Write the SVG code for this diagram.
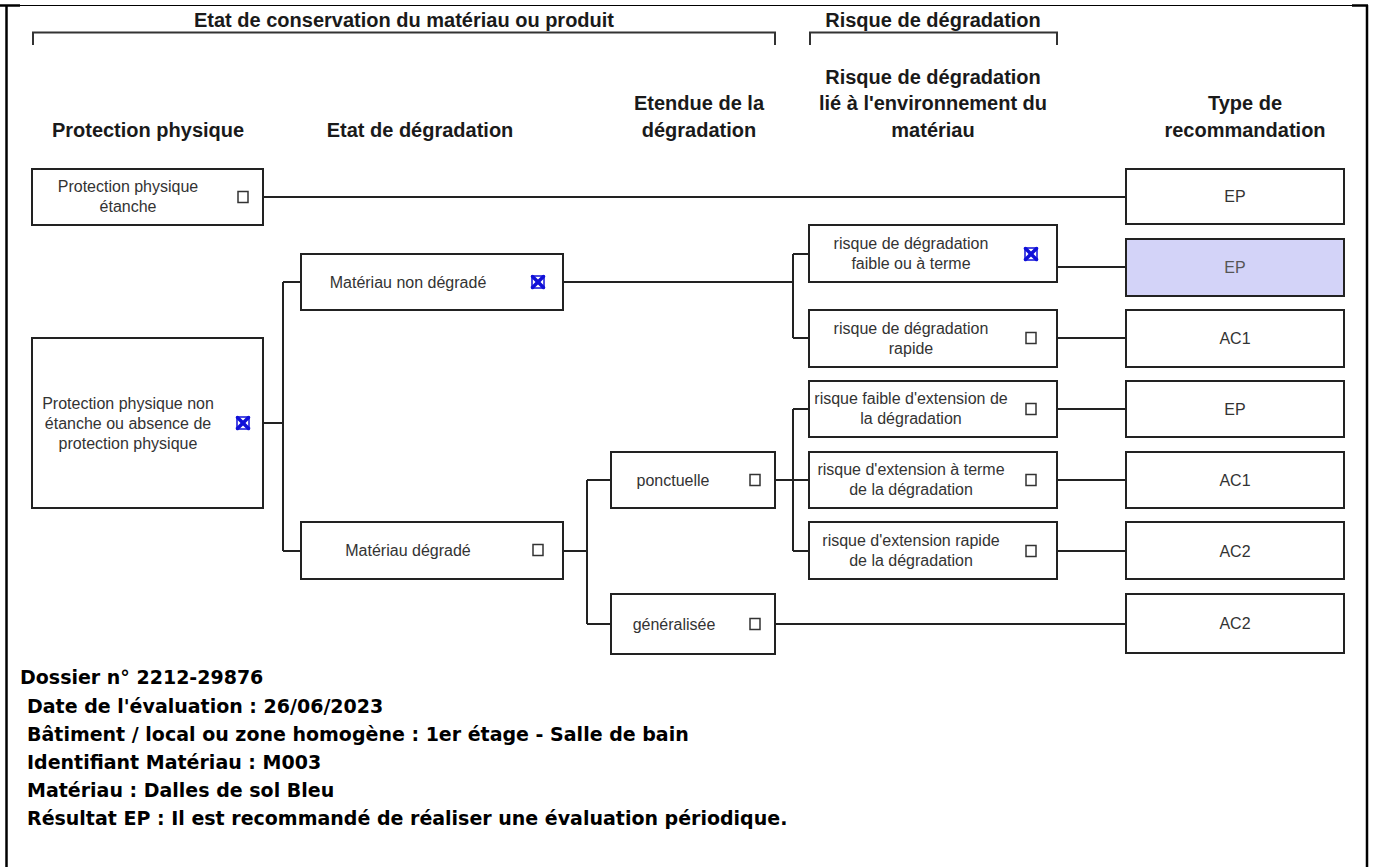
<svg xmlns="http://www.w3.org/2000/svg" width="1375" height="867" viewBox="0 0 1375 867">
<style>
.bg{fill:#fff}
.frame{stroke:#000;stroke-width:2.5;fill:none}
.frame1{stroke:#000;stroke-width:1.2;fill:none}
.br{stroke:#333;stroke-width:2;fill:none}
.h{font-family:"Liberation Sans",Arial,sans-serif;font-weight:bold;font-size:20px;fill:#1a1a1a;text-anchor:middle}
.box{fill:#fff;stroke:#222;stroke-width:2}
.hi{fill:#d3d3f8;stroke:#222;stroke-width:2}
.t{font-family:"Liberation Sans",Arial,sans-serif;font-size:16px;fill:#333;text-anchor:middle}
.tg{font-family:"Liberation Sans",Arial,sans-serif;font-size:16px;fill:#555;text-anchor:middle}
.cb{fill:#fff;stroke:#333;stroke-width:1.5}
.xb{fill:none;stroke:#1010d8;stroke-width:1.5}
.xx{stroke:#1010d8;stroke-width:3.5;stroke-linecap:round}
.c{stroke:#222;stroke-width:2;fill:none}
.b{font-family:"DejaVu Sans",Verdana,sans-serif;font-weight:bold;font-size:19px;fill:#000}
</style>
<defs>
<g id="xmark"><rect class="xb" x="-6" y="-6" width="12" height="12"/><line class="xx" x1="-5.5" y1="-5.5" x2="5.5" y2="5.5"/><line class="xx" x1="5.5" y1="-5.5" x2="-5.5" y2="5.5"/></g>
<rect id="cbox" class="cb" x="-5" y="-5.5" width="10" height="11"/>
</defs>
<rect class="bg" x="0" y="0" width="1375" height="867"/>
<g id="frame">
<line class="frame1" x1="6" y1="5.5" x2="1367" y2="5.5"/>
<line class="frame" x1="0" y1="5.5" x2="20" y2="5.5"/>
<line class="frame" x1="1352" y1="5.5" x2="1368" y2="5.5"/>
<line class="frame" x1="6.5" y1="5" x2="6.5" y2="867"/>
<line class="frame" x1="1367" y1="5" x2="1367" y2="867"/>
</g>
<g id="headers">
<text class="h" x="404" y="27">Etat de conservation du matériau ou produit</text>
<path class="br" d="M33 45V32.5H775V45"/>
<text class="h" x="933" y="27">Risque de dégradation</text>
<path class="br" d="M810 45V32.5H1057V45"/>
<text class="h" x="148" y="137">Protection physique</text>
<text class="h" x="420" y="137">Etat de dégradation</text>
<text class="h" x="699" y="110">Etendue de la</text>
<text class="h" x="699" y="137">dégradation</text>
<text class="h" x="933" y="84">Risque de dégradation</text>
<text class="h" x="933" y="110">lié à l'environnement du</text>
<text class="h" x="933" y="137">matériau</text>
<text class="h" x="1245" y="110">Type de</text>
<text class="h" x="1245" y="137">recommandation</text>
</g>
<g id="connectors">
<path class="c" d="M263 197H1126"/>
<path class="c" d="M263 423H283M283 282V551M283 282H301M283 551H301"/>
<path class="c" d="M563 282H793M793 254V338M793 254H809M793 338H809"/>
<path class="c" d="M1057 267H1126M1057 338H1126"/>
<path class="c" d="M563 551H587M587 480V624M587 480H611M587 624H611"/>
<path class="c" d="M775 480H793M793 409V551M793 409H809M793 480H809M793 551H809"/>
<path class="c" d="M1057 409H1126M1057 480H1126M1057 551H1126"/>
<path class="c" d="M775 624H1126"/>
</g>
<g id="n-pp-etanche">
<rect class="box" x="32" y="169" width="231" height="56"/>
<text class="t" x="128" y="192">Protection physique</text>
<text class="t" x="128" y="212">étanche</text>
<use href="#cbox" x="243" y="197"/>
</g>
<g id="n-pp-non-etanche">
<rect class="box" x="32" y="338" width="231" height="170"/>
<text class="t" x="128" y="409">Protection physique non</text>
<text class="t" x="128" y="429">étanche ou absence de</text>
<text class="t" x="128" y="449">protection physique</text>
<use href="#xmark" x="243" y="423"/>
</g>
<g id="n-non-degrade">
<rect class="box" x="301" y="254" width="262" height="56"/>
<text class="t" x="408" y="288">Matériau non dégradé</text>
<use href="#xmark" x="538" y="282"/>
</g>
<g id="n-degrade">
<rect class="box" x="301" y="522" width="262" height="57"/>
<text class="t" x="408" y="556">Matériau dégradé</text>
<use href="#cbox" x="538" y="550"/>
</g>
<g id="n-ponctuelle">
<rect class="box" x="611" y="452" width="164" height="56"/>
<text class="t" x="673" y="486">ponctuelle</text>
<use href="#cbox" x="755" y="480"/>
</g>
<g id="n-generalisee">
<rect class="box" x="611" y="594" width="164" height="60"/>
<text class="t" x="674" y="630">généralisée</text>
<use href="#cbox" x="755" y="624"/>
</g>
<g id="n-risque-faible">
<rect class="box" x="809" y="225" width="248" height="57"/>
<text class="t" x="911" y="249">risque de dégradation</text>
<text class="t" x="911" y="269">faible ou à terme</text>
<use href="#xmark" x="1031" y="254"/>
</g>
<g id="n-risque-rapide">
<rect class="box" x="809" y="310" width="248" height="57"/>
<text class="t" x="911" y="334">risque de dégradation</text>
<text class="t" x="911" y="354">rapide</text>
<use href="#cbox" x="1031" y="338"/>
</g>
<g id="n-ext-faible">
<rect class="box" x="809" y="381" width="248" height="56"/>
<text class="t" x="911" y="404">risque faible d'extension de</text>
<text class="t" x="911" y="424">la dégradation</text>
<use href="#cbox" x="1031" y="409"/>
</g>
<g id="n-ext-terme">
<rect class="box" x="809" y="452" width="248" height="56"/>
<text class="t" x="911" y="475">risque d'extension à terme</text>
<text class="t" x="911" y="495">de la dégradation</text>
<use href="#cbox" x="1031" y="480"/>
</g>
<g id="n-ext-rapide">
<rect class="box" x="809" y="522" width="248" height="57"/>
<text class="t" x="911" y="546">risque d'extension rapide</text>
<text class="t" x="911" y="566">de la dégradation</text>
<use href="#cbox" x="1031" y="551"/>
</g>
<g id="r-ep1">
<rect class="box" x="1126" y="169" width="218" height="55"/>
<text class="t" x="1235" y="202">EP</text>
</g>
<g id="r-ep2">
<rect class="hi" x="1126" y="239" width="218" height="57"/>
<text class="tg" x="1235" y="273">EP</text>
</g>
<g id="r-ac1a">
<rect class="box" x="1126" y="310" width="218" height="57"/>
<text class="t" x="1235" y="344">AC1</text>
</g>
<g id="r-ep3">
<rect class="box" x="1126" y="381" width="218" height="56"/>
<text class="t" x="1235" y="415">EP</text>
</g>
<g id="r-ac1b">
<rect class="box" x="1126" y="452" width="218" height="56"/>
<text class="t" x="1235" y="486">AC1</text>
</g>
<g id="r-ac2a">
<rect class="box" x="1126" y="522" width="218" height="57"/>
<text class="t" x="1235" y="557">AC2</text>
</g>
<g id="r-ac2b">
<rect class="box" x="1126" y="594" width="218" height="59"/>
<text class="t" x="1235" y="629">AC2</text>
</g>
<g id="info">
<text class="b" x="20" y="684">Dossier n° 2212-29876</text>
<text class="b" x="27" y="713">Date de l'évaluation : 26/06/2023</text>
<text class="b" x="27" y="741">Bâtiment / local ou zone homogène : 1er étage - Salle de bain</text>
<text class="b" x="27" y="769">Identifiant Matériau : M003</text>
<text class="b" x="27" y="797">Matériau : Dalles de sol Bleu</text>
<text class="b" x="27" y="825">Résultat EP : Il est recommandé de réaliser une évaluation périodique.</text>
</g>
</svg>
